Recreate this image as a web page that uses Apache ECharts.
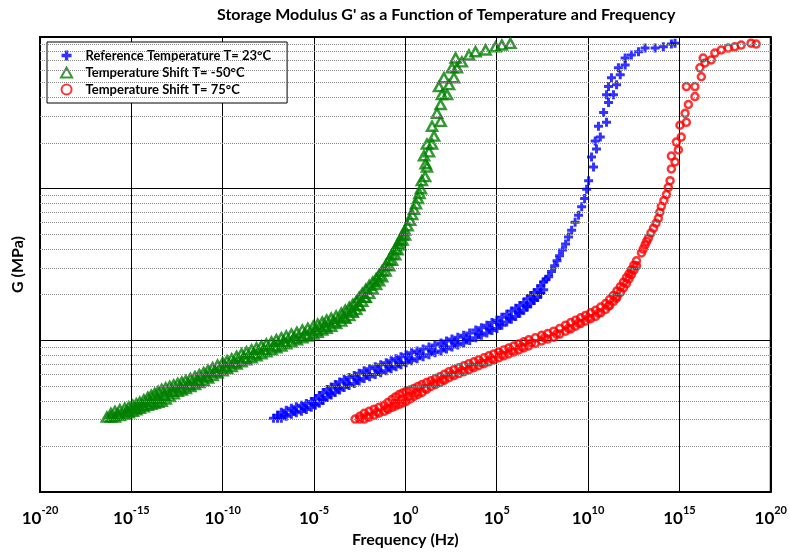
<!DOCTYPE html>
<html><head><meta charset="utf-8">
<script src="https://cdn.jsdelivr.net/npm/echarts@6/dist/echarts.min.js"></script>
<style>html,body{margin:0;padding:0;background:#fff}#c{width:790px;height:553px}</style>
</head><body><div id="c"></div>
<script>
// ---- tick / grid values ----
const xTickExponents = [-20, -15, -10, -5, 0, 5, 10, 15, 20];
const yMinorGrid = [2,3,4,5,6,7,8,9,20,30,40,50,60,70,80,90,200,300,400,500,600,700,800,900];
const seriesNames = ['Reference Temperature T= 23°C', 'Temperature Shift T= -50°C', 'Temperature Shift T= 75°C'];

// ---- data: log10(frequency in Hz) and storage modulus G (MPa) ----
const greenLogFreq = [
 -16.34,
 -15.90,-15.75,-15.90, -15.36,-15.21,-15.36, -14.92,-14.77,-14.92, -14.54,-14.39,-14.54,
 -14.10,-13.95,-14.10, -13.72,-13.57,-13.72, -13.34,-13.19,-13.34, -12.90,-12.75,-12.90,
 -12.46,-12.31,-12.46, -12.02,-11.87,-12.02, -11.52,-11.37,-11.52, -11.04,-10.89,-11.04,
 -10.55,-10.40,-10.55, -10.00,-9.85,-10.00, -9.51,-9.36,-9.51, -8.97,-8.82,-8.97,
 -8.42,-8.27,-8.42, -7.88,-7.73,-7.88, -7.33,-7.18,-7.33, -6.79,-6.64,-6.79,
 -6.24,-6.09,-6.24, -5.64,-5.49,-5.64, -5.04,-4.89,-5.04, -4.55,-4.40,-4.55,
 -4.06,-3.91,-4.06, -3.51,-3.36,-3.51, -3.07,-2.92,-3.07, -2.69,-2.54,-2.69,
 -2.36,-2.21,-2.36,
 -1.98,-1.98, -1.60,-1.60, -1.27,-1.27, -0.89,-0.89, -0.56,-0.56, -0.29,-0.29, -0.02,-0.02,
 0.26, 0.47, 0.69, 0.85,
 0.90,1.08,1.18,1.11,1.02,1.29,1.18,1.46,1.57,1.46,1.93,1.73,1.93,2.00,2.28,1.84,2.39,2.11,
 2.66,2.55,2.82,2.75,3.09,3.48,3.84,4.39,4.93,5.28,5.75
];
const greenG = [
 3.12,
 3.41,3.26,3.12, 3.57,3.41,3.26, 3.73,3.57,3.41, 3.91,3.73,3.57,
 4.21,3.96,3.73, 4.47,4.15,3.85, 4.75,4.34,3.96, 4.97,4.61,4.27,
 5.20,4.89,4.61, 5.43,5.12,4.82, 5.77,5.43,5.12, 6.13,5.77,5.43,
 6.61,6.22,5.86, 7.12,6.71,6.31, 7.56,7.12,6.71, 8.15,7.68,7.23,
 8.66,8.15,7.68, 9.19,8.66,8.15, 9.77,9.19,8.66, 10.4,9.77,9.19,
 11.0,10.4,9.77, 11.7,11.0,10.4, 12.4,11.7,11.0, 13.2,12.4,11.7,
 14.0,13.2,12.4, 15.1,14.2,13.4, 16.5,15.6,14.6, 18.1,17.0,16.0,
 20.4,19.2,18.1,
 23.0,20.4, 25.5,23.3, 28.8,26.3, 34.0,31.0, 40.1,36.6, 45.9,42.6, 53.3,49.4,
 61.9, 73.1, 86.1, 100,
 113,120,139,146,165,175,197,197,222,258,278,314,359,417,417,471,485,539,
 539,626,626,727,685,761,800,821,862,885,907
];
// extra readings of the dense band (between the stations above)
const greenLogFreqBand = [
 -16.12,-16.12, -15.63,-15.63, -15.14,-15.14, -14.73,-14.73, -14.32,-14.32, -13.91,-13.91,
 -13.53,-13.53, -13.12,-13.12, -12.68,-12.68, -12.24,-12.24, -11.77,-11.77, -11.28,-11.28,
 -10.80,-10.80, -10.28,-10.28, -9.76,-9.76, -9.24,-9.24, -8.70,-8.70, -8.15,-8.15,
 -7.61,-7.61, -7.06,-7.06, -6.52,-6.52, -5.94,-5.94, -5.34,-5.34, -4.80,-4.80,
 -4.31,-4.31, -3.79,-3.79, -3.29,-3.29, -2.88,-2.88, -2.53,-2.53, -2.17,-2.17,
 -1.79,-1.79, -1.44,-1.44, -1.08,-1.08, -0.73,-0.73, -0.43,-0.43, -0.16,-0.16,
 0.12, 0.37, 0.58, 0.77
];
const greenGBand = [
 3.30,3.12, 3.49,3.19, 3.65,3.33, 3.82,3.49, 4.06,3.65, 4.34,3.79,
 4.61,3.90, 4.86,4.11, 5.08,4.44, 5.31,4.71, 5.60,4.97, 5.95,5.27,
 6.37,5.64, 6.86,6.08, 7.34,6.51, 7.85,6.97, 8.40,7.45, 8.92,7.91,
 9.48,8.40, 10.1,8.92, 10.7,9.48, 11.3,10.1, 12.0,10.7, 12.8,11.3,
 13.6,12.0, 14.5,12.9, 15.8,14.0, 17.3,15.3, 19.2,17.0, 21.7,19.2,
 24.2,21.8, 27.1,24.7, 31.3,28.6, 36.9,33.7, 42.9,39.5, 49.5,45.9,
 57.0, 67.5, 79.5, 93.0
];

const blueLogFreq = [
 -7.22,
 -6.79,-6.64,-6.79, -6.24,-6.09,-6.24, -5.69,-5.54,-5.69, -5.15,-5.00,-5.15,
 -4.71,-4.56,-4.71, -4.28,-4.13,-4.28, -3.84,-3.69,-3.84, -3.35,-3.20,-3.35,
 -2.80,-2.65,-2.80, -2.26,-2.11,-2.26, -1.65,-1.50,-1.65, -1.05,-0.90,-1.05,
 -0.51,-0.36,-0.51, 0.04,0.19,0.04, 0.64,0.79,0.64, 1.29,1.44,1.29,
 1.95,2.10,1.95, 2.55,2.70,2.55, 3.19,3.34,3.19, 3.85,4.00,3.85,
 4.46,4.61,4.46, 5.01,5.16,5.01, 5.55,5.70,5.55, 6.04,6.19,6.04,
 6.48,6.63,6.48, 6.86,7.01,6.86, 7.24,7.39,7.24,
 7.57,7.57,
 7.84,8.17,8.44,8.77,9.10,9.48,9.81,
 10.03,10.30,10.19,10.46,10.39,10.67,10.57,11.01,10.85,11.12,11.01,11.39,11.12,
 11.56,11.28,11.76,11.66,12.03,12.03,12.37,12.76,13.12,13.67,14.12,14.56,14.76
];
const blueG = [
 3.07,
 3.36,3.21,3.07, 3.57,3.41,3.26, 3.73,3.57,3.41, 3.96,3.79,3.62,
 4.34,4.08,3.85, 4.75,4.47,4.21, 5.12,4.82,4.54, 5.52,5.20,4.89,
 5.86,5.52,5.20, 6.31,5.95,5.60, 6.71,6.31,5.95, 7.12,6.71,6.31,
 7.56,7.12,6.71, 8.03,7.56,7.12, 8.53,8.03,7.56, 9.06,8.53,8.03,
 9.62,9.06,8.53, 10.2,9.62,9.06, 10.8,10.2,9.62, 11.7,11.0,10.4,
 12.6,11.9,11.2, 13.6,12.8,12.0, 14.9,14.0,13.2, 16.3,15.3,14.4,
 17.8,16.8,15.8, 19.8,18.6,17.5, 21.6,20.4,19.2,
 24.4,21.6,
 26.3,31.0,36.1,43.2,53.3,66.8,86.1,
 113,139,162,183,206,219,258,274,318,370,417,417,471,
 485,539,564,626,655,727,761,800,845,845,862,898,910
];
const blueLogFreqBand = [
 -7.00,-7.00, -6.52,-6.52, -5.97,-5.97, -5.42,-5.42, -4.93,-4.93, -4.50,-4.50,
 -4.06,-4.06, -3.60,-3.60, -3.08,-3.08, -2.53,-2.53, -1.96,-1.96, -1.35,-1.35,
 -0.78,-0.78, -0.24,-0.24, 0.34,0.34, 0.97,0.97, 1.62,1.62, 2.25,2.25,
 2.87,2.87, 3.52,3.52, 4.16,4.16, 4.74,4.74, 5.28,5.28, 5.80,5.80,
 6.26,6.26, 6.67,6.67, 7.05,7.05, 7.41,7.41,
 7.70, 8.00, 8.30, 8.60, 8.93, 9.29, 9.65, 9.92
];
const blueGBand = [
 3.21,3.07, 3.46,3.16, 3.65,3.33, 3.84,3.51, 4.14,3.73, 4.54,4.02,
 4.93,4.37, 5.32,4.71, 5.69,5.04, 6.08,5.40, 6.51,5.77, 6.91,6.13,
 7.34,6.51, 7.79,6.91, 8.28,7.34, 8.79,7.79, 9.34,8.28, 9.91,8.79,
 10.5,9.34, 11.2,10.0, 12.1,10.8, 13.1,11.6, 14.2,12.6, 15.6,13.8,
 17.0,15.1, 18.8,16.6, 20.7,18.3, 23.0,20.4,
 25.3, 28.5, 33.5, 39.5, 48.0, 60.0, 76.0, 99.0
];

const redLogFreq = [
 -2.75,
 -2.25,-2.10,-2.25, -1.71,-1.56,-1.71, -1.16,-1.01,-1.16, -0.73,-0.58,-0.73,
 -0.34,-0.19,-0.34, 0.04,0.19,0.04, 0.47,0.62,0.47, 0.91,1.06,0.91,
 1.40,1.55,1.40, 1.89,2.04,1.89, 2.39,2.54,2.39, 2.93,3.08,2.93,
 3.48,3.63,3.48, 4.02,4.17,4.02, 4.57,4.72,4.57, 5.11,5.26,5.11,
 5.66,5.81,5.66, 6.21,6.36,6.21, 6.75,6.90,6.75, 7.46,7.61,7.46,
 8.12,8.27,8.12, 8.77,8.92,8.77, 9.32,9.47,9.32, 9.86,10.01,9.86,
 10.41,10.56,10.41, 10.96,11.11,10.96, 11.39,11.54,11.39,
 11.77,11.77, 12.10,12.10, 12.37,12.37, 12.65,12.65,
 12.92,13.12,13.30,13.58,13.85,14.01,14.29,14.49,14.56,14.76,14.56,14.94,14.83,15.10,
 15.03,15.38,15.31,15.49,15.85,15.38,15.85,16.20,16.12,16.40,16.30,16.74,16.94,17.29,
 17.67,18.03,18.38,18.92,19.20
];
const redG = [
 3.03,
 3.31,3.16,3.03, 3.52,3.36,3.21, 3.73,3.57,3.41, 4.08,3.85,3.62,
 4.40,4.08,3.79, 4.61,4.27,3.96, 4.82,4.54,4.27, 5.12,4.82,4.54,
 5.43,5.20,4.97, 5.77,5.52,5.27, 6.22,5.95,5.68, 6.61,6.31,6.04,
 7.02,6.71,6.41, 7.45,7.12,6.81, 7.91,7.56,7.23, 8.40,8.03,7.68,
 8.92,8.53,8.15, 9.47,9.06,8.66, 10.1,9.62,9.19, 10.8,10.4,9.91,
 11.5,11.0,10.5, 12.6,12.0,11.5, 13.6,13.0,12.4, 14.6,14.0,13.4,
 15.8,15.1,14.4, 17.5,16.8,16.0, 19.8,18.9,18.1,
 22.6,20.7, 25.9,23.7, 29.2,27.1, 33.5,31.0,
 37.7,42.6,47.2,54.9,63.8,76.4,91.5,113,135,150,164,180,203,219,
 262,274,314,359,405,471,471,547,626,675,727,706,784,821,
 845,862,885,910,898
];
const redLogFreqBand = [
 -2.50,-2.50, -1.98,-1.98, -1.44,-1.44, -0.95,-0.95, -0.54,-0.54, -0.15,-0.15,
 0.26,0.26, 0.69,0.69, 1.16,1.16, 1.65,1.65, 2.14,2.14, 2.66,2.66,
 3.21,3.21, 3.75,3.75, 4.30,4.30, 4.84,4.84, 5.39,5.39, 5.94,5.94,
 6.48,6.48, 7.11,7.11, 7.79,7.79, 8.45,8.45, 9.05,9.05, 9.59,9.59,
 10.14,10.14, 10.69,10.69, 11.18,11.18, 11.58,11.58, 11.94,11.94, 12.24,12.24, 12.51,12.51,
 13.02, 13.21, 13.44, 13.72, 13.93, 14.15, 14.39
];
const redGBand = [
 3.16,3.03, 3.41,3.12, 3.62,3.31, 3.90,3.51, 4.24,3.70, 4.50,3.87,
 4.71,4.11, 4.97,4.40, 5.27,4.75, 5.60,5.12, 5.99,5.47, 6.41,5.86,
 6.81,6.22, 7.23,6.61, 7.68,7.02, 8.15,7.45, 8.66,7.91, 9.19,8.40,
 9.78,8.92, 10.4,9.54, 11.1,10.2, 12.0,11.0, 13.1,11.9, 14.1,12.9,
 15.2,13.9, 16.6,15.2, 18.6,17.0, 21.2,19.4, 24.2,22.2, 27.5,25.4, 31.3,29.0,
 40.0, 44.9, 51.0, 59.2, 70.0, 83.5, 102
];

// ---- rendering ----
const FONT = 'Lato, "Open Sans", "DejaVu Sans", sans-serif';
function pairs(xs, ys) {
  const n = Math.min(xs.length, ys.length);
  const out = [];
  for (let i = 0; i < n; i++) out.push([xs[i], ys[i]]);
  return out;
}
const plusPath = 'path://M3,0H6V3H9V6H6V9H3V6H0V3H3Z';
const triPath = 'path://M5,0L10,9H0Z';

const chart = echarts.init(document.getElementById('c'), null, { renderer: 'canvas' });
chart.setOption({
  animation: false,
  backgroundColor: '#fff',
  title: {
    text: "Storage Modulus G' as a Function of Temperature and Frequency",
    left: 217, top: 7, padding: 0,
    textStyle: { fontFamily: FONT, fontWeight: 'bold', fontSize: 16, color: '#000' }
  },
  grid: { left: 40, right: 17, top: 37, bottom: 56, show: true, borderColor: '#000', borderWidth: 2, backgroundColor: 'transparent' },
  legend: {
    data: seriesNames, orient: 'vertical', left: 47, top: 42,
    padding: [7, 16, 7, 13], itemWidth: 28, itemHeight: 10, itemGap: 4,
    borderColor: '#000', borderWidth: 1, backgroundColor: '#fff', borderRadius: 0,
    selectedMode: false,
    textStyle: { fontFamily: FONT, fontWeight: 'bold', fontSize: 13, color: '#000' }
  },
  xAxis: {
    type: 'value', min: xTickExponents[0], max: xTickExponents[xTickExponents.length - 1], interval: 5,
    name: 'Frequency (Hz)', nameLocation: 'middle', nameGap: 32,
    nameTextStyle: { fontFamily: FONT, fontWeight: 'bold', fontSize: 16, color: '#000' },
    axisLine: { show: false },
    axisTick: { show: true, inside: true, length: 4, lineStyle: { color: '#000' } },
    splitLine: { show: true, lineStyle: { color: '#000', width: 1 } },
    axisLabel: {
      margin: 13, showMinLabel: true, showMaxLabel: true,
      formatter: v => '{b|10}{s|' + v + '}',
      rich: {
        b: { fontFamily: FONT, fontWeight: 'bold', fontSize: 17, lineHeight: 22, color: '#000', verticalAlign: 'bottom' },
        s: { fontFamily: FONT, fontWeight: 'bold', fontSize: 11, lineHeight: 11, color: '#000', verticalAlign: 'top' }
      }
    }
  },
  yAxis: {
    type: 'log', logBase: 10, min: 1, max: 1000,
    name: 'G (MPa)', nameLocation: 'middle', nameGap: 14, nameRotate: 90,
    nameTextStyle: { fontFamily: FONT, fontWeight: 'bold', fontSize: 16, color: '#000' },
    axisLabel: { show: false }, axisTick: { show: false }, axisLine: { show: false },
    splitLine: { show: true, lineStyle: { color: '#000', width: 1 } }
  },
  series: [
    {
      type: 'line', name: 'minor-grid', data: [], silent: true, z: 1,
      markLine: {
        silent: true, symbol: ['none', 'none'], animation: false,
        label: { show: false },
        lineStyle: { color: '#888', type: 'dotted', width: 1 },
        emphasis: { disabled: true },
        data: yMinorGrid.map(v => ({ yAxis: v }))
      }
    },
    {
      type: 'scatter', name: seriesNames[0], z: 3,
      symbol: plusPath, symbolSize: 9,
      itemStyle: { color: '#0000ff' },
      data: pairs(blueLogFreq, blueG).concat(pairs(blueLogFreqBand, blueGBand))
    },
    {
      type: 'scatter', name: seriesNames[1], z: 3,
      symbol: triPath, symbolSize: [10, 9],
      itemStyle: { color: 'rgba(255,255,255,0)', borderColor: '#008000', borderWidth: 2.5 },
      data: pairs(greenLogFreq, greenG).concat(pairs(greenLogFreqBand, greenGBand))
    },
    {
      type: 'scatter', name: seriesNames[2], z: 3,
      symbol: 'circle', symbolSize: 7,
      itemStyle: { color: 'rgba(255,255,255,0)', borderColor: '#ff0000', borderWidth: 2.5 },
      data: pairs(redLogFreq, redG).concat(pairs(redLogFreqBand, redGBand))
    }
  ]
});
</script></body></html>
